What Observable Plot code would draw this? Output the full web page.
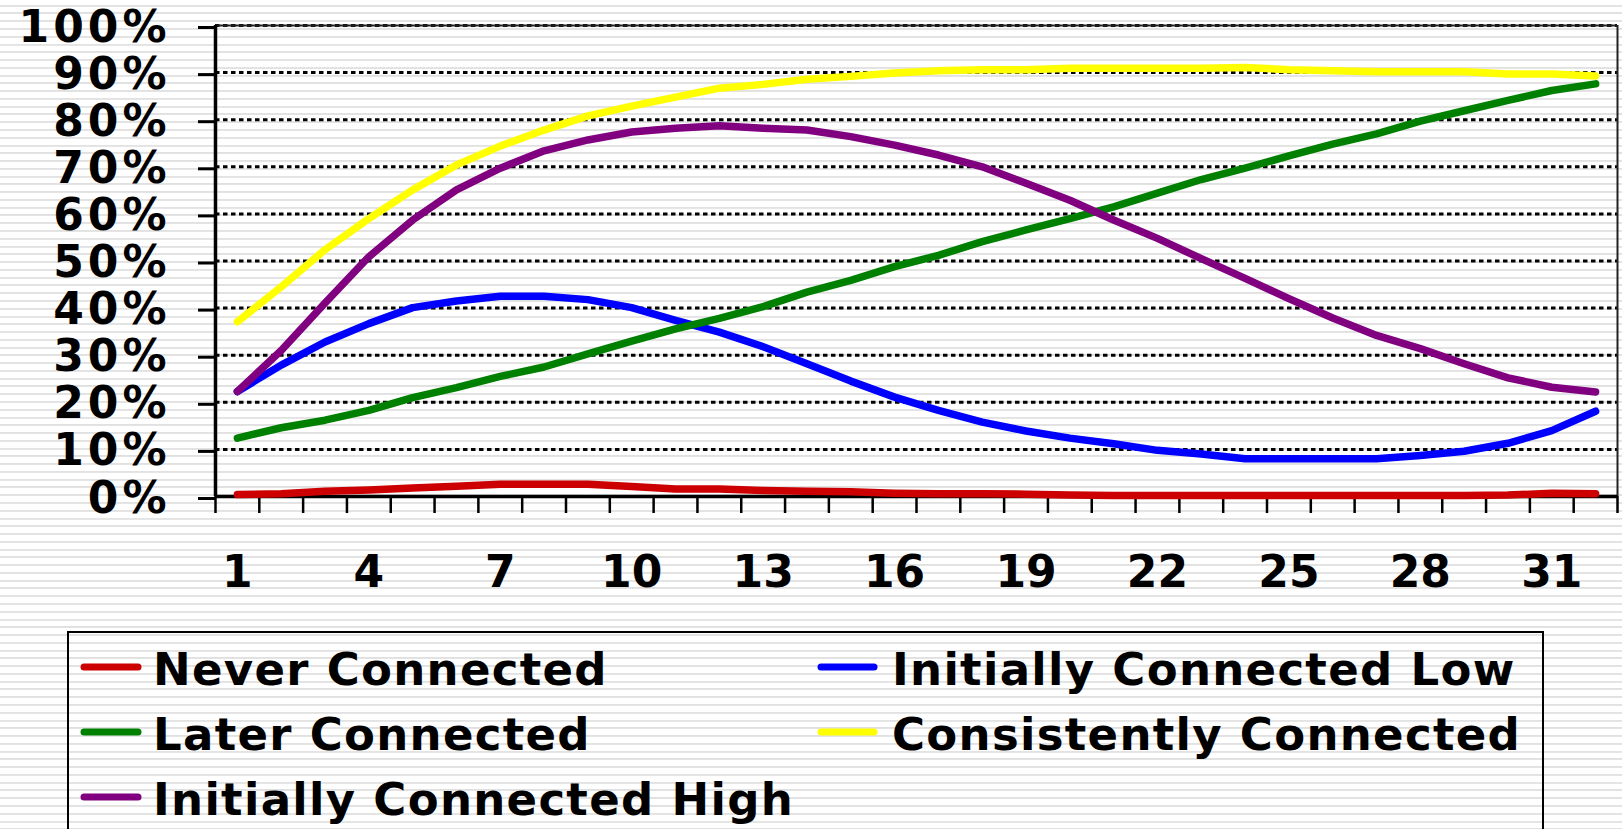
<!DOCTYPE html>
<html>
<head>
<meta charset="utf-8">
<script src="https://cdn.jsdelivr.net/npm/d3@7"></script>
<script src="https://cdn.jsdelivr.net/npm/@observablehq/plot@0.6"></script>
<style>
  html, body { margin: 0; padding: 0; width: 1622px; height: 829px; overflow: hidden; }
  body {
    background: repeating-linear-gradient(to bottom,
      #ffffff 0px, #ffffff 4.7px, #e0e0e0 4.7px, #e6e6e6 6.7px, #ffffff 6.7px, #ffffff 7.77px);
    font-family: "DejaVu Sans", Verdana, sans-serif;
  }
  #chart svg { display: block; }
  #legend { display: block; }
</style>
</head>
<body>
<div id="chart"></div>
<svg id="legend" width="1622" height="198"></svg>
<script>
// ---- Data (values in percent) ----
const days = [1,2,3,4,5,6,7,8,9,10,11,12,13,14,15,16,17,18,19,20,21,22,23,24,25,26,27,28,29,30,31,32];
const xTickLabels = [1,4,7,10,13,16,19,22,25,28,31];
const yTickValues = [0,10,20,30,40,50,60,70,80,90,100];

const neverConnected = [0.4,0.6,1.1,1.4,1.8,2.2,2.6,2.6,2.6,2.1,1.6,1.6,1.3,1.1,1.0,0.7,0.6,0.6,0.5,0.3,0.2,0.2,0.2,0.2,0.2,0.2,0.2,0.2,0.2,0.3,0.7,0.6];
const initiallyConnectedLow = [22.3,27.9,32.8,36.7,40.1,41.5,42.5,42.5,41.8,40.1,37.4,34.9,31.8,28.2,24.5,21.1,18.3,15.8,13.9,12.4,11.2,9.8,9.0,8.0,8.0,8.0,8.0,8.7,9.6,11.3,14.0,18.1];
const laterConnected = [12.4,14.6,16.2,18.3,21.0,23.1,25.5,27.5,30.3,33.0,35.6,37.8,40.3,43.4,45.9,48.8,51.2,54.1,56.6,59.0,61.5,64.4,67.3,69.7,72.3,74.8,77.0,79.7,81.9,84.1,86.2,87.6];
const consistentlyConnected = [37.1,44.5,52.4,59.0,65.1,70.4,74.4,77.8,80.8,82.9,84.8,86.7,87.5,88.6,89.2,89.9,90.4,90.6,90.6,90.9,90.9,90.9,90.9,91.1,90.6,90.4,90.2,90.2,90.2,89.7,89.7,89.3];
const initiallyConnectedHigh = [22.3,31.0,41.1,50.9,58.7,65.1,69.7,73.4,75.7,77.4,78.2,78.7,78.2,77.8,76.4,74.6,72.5,70.0,66.5,62.9,58.7,54.8,50.5,46.3,42.0,37.9,34.2,31.4,28.2,25.2,23.2,22.2];

const seriesNames = ["Never Connected","Initially Connected Low","Later Connected","Consistently Connected","Initially Connected High"];
const seriesColors = ["#cc0000","#0000ff","#008000","#ffff00","#800080"];
const seriesValues = [neverConnected, initiallyConnectedLow, laterConnected, consistentlyConnected, initiallyConnectedHigh];

const rows = seriesNames.flatMap((name, s) =>
  days.map((d, i) => ({series: name, day: d, value: seriesValues[s][i]})));

const boundaries = d3.range(0.5, days.length + 1, 1);
const gridValues = yTickValues.filter(v => v > 0);

const font = "'DejaVu Sans', Verdana, sans-serif";

const chart = Plot.plot({
  width: 1622,
  height: 631,
  marginLeft: 215,
  marginRight: 5,
  marginTop: 25,
  marginBottom: 135,
  style: {background: "transparent", fontFamily: font, fontWeight: "bold", color: "black", overflow: "visible"},
  x: {domain: [0.5, days.length + 0.5]},
  y: {domain: [0, 100]},
  color: {domain: seriesNames, range: seriesColors},
  marks: [
    Plot.ruleY(gridValues, {stroke: "black", strokeWidth: 3, strokeDasharray: "4.5,3.5"}),
    Plot.ruleY([100], {stroke: "#222", strokeWidth: 2}),
    Plot.ruleX([days.length + 0.5], {stroke: "#222", strokeWidth: 2}),
    Plot.axisY({ticks: yTickValues, tickFormat: d => d + "%", tickSize: 17, tickPadding: 28,
      strokeWidth: 3, stroke: "black", fontSize: 44, fontWeight: "bold", fill: "black", dy: 2, label: null}),
    Plot.axisX({ticks: boundaries, tickFormat: () => "", tickSize: 17, strokeWidth: 2.5, stroke: "black", label: null}),
    Plot.axisX({ticks: xTickLabels, tickSize: 0, tickPadding: 59, fontSize: 44, fontWeight: "bold", fill: "black", label: null}),
    Plot.ruleX([0.5], {stroke: "black", strokeWidth: 3.5}),
    Plot.ruleY([0], {stroke: "black", strokeWidth: 3.5}),
    Plot.line(rows, {x: "day", y: "value", z: "series", stroke: "series",
      strokeWidth: 7.5, strokeLinecap: "round", strokeLinejoin: "round"})
  ]
});
document.getElementById("chart").appendChild(chart);
// widen y tick labels like the original's wider glyphs
d3.select(chart).selectAll("g[aria-label='y-axis tick label'] text").attr("letter-spacing", "4px");

// ---- Legend (below the chart) ----
const legendPos = [
  {col: 0, row: 0}, {col: 1, row: 0}, {col: 0, row: 1}, {col: 1, row: 1}, {col: 0, row: 2}
];
const colX = [{sw0: 81, sw1: 141, tx: 153}, {sw0: 818, sw1: 877, tx: 892}];
const rowBase = [54, 119, 184];
const lg = d3.select("#legend");
lg.append("rect").attr("x", 68).attr("y", 1).attr("width", 1475).attr("height", 400)
  .attr("fill", "none").attr("stroke", "black").attr("stroke-width", 2);
seriesNames.forEach((name, i) => {
  const p = legendPos[i], c = colX[p.col], b = rowBase[p.row];
  lg.append("line").attr("x1", c.sw0 + 3).attr("x2", c.sw1 - 3).attr("y1", b - 18).attr("y2", b - 18)
    .attr("stroke", seriesColors[i]).attr("stroke-width", 7).attr("stroke-linecap", "round");
  lg.append("text").attr("x", c.tx).attr("y", b).text(name)
    .attr("font-family", font).attr("font-weight", "bold").attr("font-size", 45)
    .attr("letter-spacing", "1.3px").attr("fill", "black");
});
</script>
</body>
</html>
